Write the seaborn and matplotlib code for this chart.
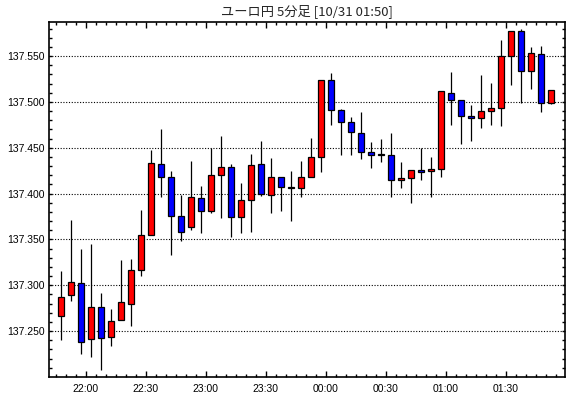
import matplotlib
matplotlib.use("Agg")
import matplotlib.pyplot as plt
import numpy as np
import pandas as pd
import seaborn as sns

# 5-minute candles, 21:45 .. 01:50
opens = [137.266, 137.289, 137.302, 137.241, 137.276, 137.243, 137.262, 137.279, 137.317, 137.355,
         137.4325, 137.418, 137.376, 137.363, 137.3955, 137.381, 137.4205, 137.429, 137.3747, 137.393,
         137.4317, 137.398, 137.4176, 137.4068, 137.4056, 137.4176, 137.4394, 137.5243, 137.4916, 137.4775,
         137.4663, 137.4457, 137.4426, 137.4424, 137.4145, 137.417, 137.426, 137.425, 137.4272, 137.510,
         137.5015, 137.485, 137.4825, 137.4905, 137.4938, 137.5496, 137.577, 137.5332, 137.5518, 137.4993]
closes = [137.287, 137.303, 137.238, 137.276, 137.242, 137.261, 137.282, 137.317, 137.355, 137.433,
          137.418, 137.376, 137.358, 137.396, 137.381, 137.4205, 137.429, 137.3747, 137.393, 137.4315,
          137.400, 137.4176, 137.4067, 137.4058, 137.4176, 137.4394, 137.5243, 137.4916, 137.478, 137.467,
          137.4457, 137.4424, 137.4422, 137.4145, 137.4174, 137.426, 137.424, 137.4272, 137.512, 137.5015,
          137.4847, 137.4825, 137.4905, 137.4938, 137.5496, 137.577, 137.5332, 137.553, 137.4993, 137.5124]
highs = [137.316, 137.371, 137.339, 137.345, 137.291, 137.274, 137.328, 137.329, 137.382, 137.448,
         137.470, 137.425, 137.398, 137.436, 137.4085, 137.450, 137.4624, 137.432, 137.4115, 137.4427,
         137.457, 137.4386, 137.4176, 137.4245, 137.4354, 137.4604, 137.5243, 137.532, 137.492, 137.483,
         137.4884, 137.4558, 137.459, 137.4656, 137.434, 137.426, 137.4496, 137.440, 137.512, 137.533,
         137.5015, 137.4964, 137.5296, 137.5205, 137.5675, 137.577, 137.579, 137.560, 137.561, 137.5124]
lows = [137.240, 137.283, 137.225, 137.222, 137.207, 137.234, 137.262, 137.256, 137.310, 137.355,
        137.396, 137.333, 137.3485, 137.3605, 137.357, 137.379, 137.373, 137.3525, 137.357, 137.358,
        137.3976, 137.379, 137.3813, 137.370, 137.3965, 137.4176, 137.4237, 137.4753, 137.4415, 137.4415,
        137.4377, 137.428, 137.4344, 137.3957, 137.406, 137.390, 137.415, 137.3964, 137.418, 137.475,
        137.454, 137.4573, 137.4715, 137.4748, 137.4737, 137.5186, 137.499, 137.5142, 137.489, 137.4978]

tick_labels = ["22:00", "22:30", "23:00", "23:30", "00:00", "00:30", "01:00", "01:30"]
title = "ユーロ円 5分足 [10/31 01:50]"

df = pd.DataFrame({"open": opens, "high": highs, "low": lows, "close": closes})
df["x"] = np.arange(len(df))
df["up"] = df["close"] >= df["open"]

sns.set_theme(style="ticks")
plt.rcParams["font.family"] = ["Liberation Sans", "Noto Sans CJK JP", "DejaVu Sans"]

fig = plt.figure(figsize=(5.7, 3.98), dpi=100)
ax = fig.add_axes([0.0865, 0.0535, 0.9047, 0.8905])

# wicks
ax.vlines(df["x"], df["low"], df["high"], color="black", linewidth=0.9, zorder=2)

# bodies
body_bottom = df[["open", "close"]].min(axis=1)
body_height = (df["close"] - df["open"]).abs().clip(lower=0.0008)
body_colors = np.where(df["up"], "#FF0000", "#0000FF")
ax.bar(df["x"], body_height, bottom=body_bottom, width=0.62, color=body_colors,
       edgecolor="black", linewidth=0.9, zorder=3)

# axes limits / ticks
ax.set_xlim(-1.14, 50.43)
ax.set_ylim(137.2002, 137.5868)

major_x = 2.5 + 6 * np.arange(len(tick_labels))
ax.set_xticks(major_x)
ax.set_xticklabels(tick_labels)
ax.set_xticks(np.arange(-0.5, 50.5, 1.0), minor=True)

ax.set_yticks(np.arange(137.25, 137.56, 0.05))
ax.set_yticklabels([f"{v:.3f}" for v in np.arange(137.25, 137.56, 0.05)])
ax.set_yticks(np.arange(137.21, 137.585, 0.01), minor=True)

ax.tick_params(axis="both", which="both", direction="in", colors="black",
               top=True, right=True, labelsize=7.5)
ax.tick_params(axis="x", which="major", length=4.5, width=1, pad=5)
ax.tick_params(axis="x", which="minor", length=2.2, width=1)
ax.tick_params(axis="y", which="major", length=2.2, width=1, pad=3)
ax.tick_params(axis="y", which="minor", length=2.2, width=1)

ax.yaxis.grid(True, which="major", color="black", linestyle=(0, (1, 1.5)), linewidth=0.8)
ax.xaxis.grid(False)
for s in ax.spines.values():
    s.set_color("black")
    s.set_linewidth(1.2)

ax.set_facecolor("white")
fig.patch.set_facecolor("white")
fig.text(0.5386, 0.972, title, ha="center", va="center", fontsize=9.5,
         family=["Noto Sans CJK JP", "DejaVu Sans"])

fig.savefig("out.png", dpi=100, facecolor="white")
